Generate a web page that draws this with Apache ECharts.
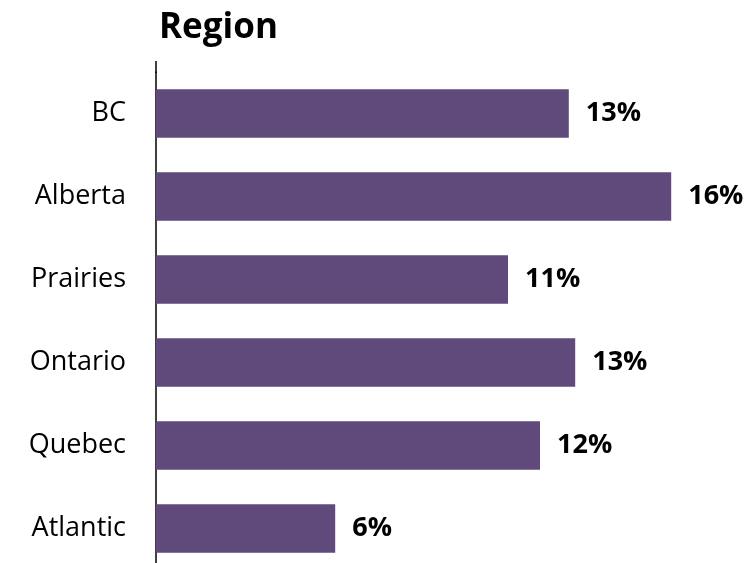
<!DOCTYPE html>
<html>
<head>
<meta charset="utf-8">
<script src="https://cdn.jsdelivr.net/npm/echarts@6/dist/echarts.min.js"></script>
<style>
html,body{margin:0;padding:0;background:#fff;overflow:hidden;}
#chart{width:748px;height:570px;}
</style>
</head>
<body>
<div id="chart"></div>
<script>
const titleText = 'Region';
const categories = ['BC', 'Alberta', 'Prairies', 'Ontario', 'Quebec', 'Atlantic'];
const values = [12.9, 16.1, 11.0, 13.1, 12.0, 5.6];

const chart = echarts.init(document.getElementById('chart'));
const option = {
  animation: false,
  backgroundColor: '#ffffff',
  title: {
    text: titleText,
    left: 154,
    top: 6,
    textStyle: { fontFamily: 'Open Sans', fontWeight: 'bold', fontSize: 35, color: '#000' }
  },
  grid: { left: 156, width: 576, top: 72, bottom: 0, containLabel: false },
  xAxis: {
    type: 'value', min: 0, max: 18, show: false
  },
  yAxis: {
    type: 'category',
    data: categories,
    inverse: true,
    axisLine: { show: true, lineStyle: { color: '#000', width: 1.5 } },
    axisTick: { show: false },
    axisLabel: { margin: 30, fontFamily: 'Open Sans', fontSize: 27, color: '#000' }
  },
  graphic: [{
    type: 'line',
    shape: { x1: 156, y1: 61, x2: 156, y2: 73 },
    style: { stroke: '#000', lineWidth: 1.5 }
  }],
  series: [{
    type: 'bar',
    data: values,
    barWidth: '58.5%',
    itemStyle: { color: '#604A7B' },
    label: {
      show: true,
      position: 'right',
      distance: 17,
      fontFamily: 'Open Sans',
      fontWeight: 'bold',
      fontSize: 27,
      color: '#000',
      formatter: p => Math.round(p.value) + '%'
    }
  }]
};
chart.setOption(option);
</script>
</body>
</html>
